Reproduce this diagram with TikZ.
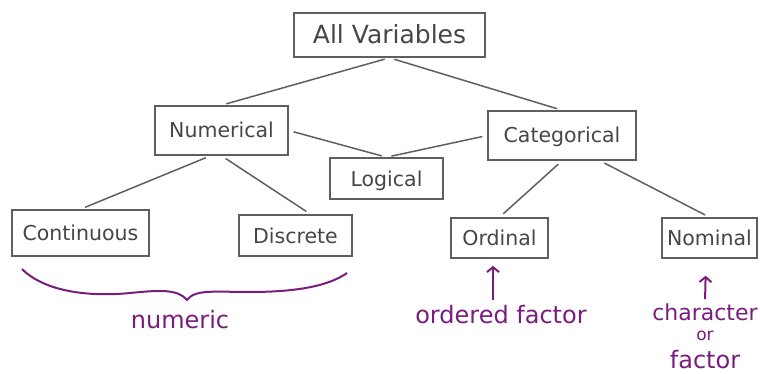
\documentclass[tikz,border=0pt]{standalone}
\usepackage{fontspec}
\setmainfont{DejaVu Sans}
\usepackage{tikz}
\usetikzlibrary{arrows.meta}
\definecolor{boxgray}{RGB}{95,95,95}
\definecolor{txtgray}{RGB}{70,70,70}
\definecolor{notepurple}{RGB}{122,28,126}
\tikzset{
	box/.style 2 args={draw=boxgray,line width=1.6pt,text=txtgray,inner sep=0pt,
		minimum width=#1,minimum height=#2,text height=15pt,text depth=0pt,
		font=\fontsize{20.5}{24}\selectfont},
	link/.style={draw=boxgray,line width=1.5pt,shorten <=5pt,shorten >=5pt},
	note/.style={text=notepurple,inner sep=0pt,anchor=base,font=\fontsize{24}{28}\selectfont},
	notearrow/.style={draw=notepurple,line width=2pt,-{Straight Barb[length=5pt,width=12pt]}}
}
\begin{document}
\begin{tikzpicture}[x=1pt,y=-1pt]%[scale=1.5]
	\useasboundingbox (0,0) rectangle (760,374);

	\node [box={191pt}{44pt},text height=18pt,font=\fontsize{25}{29}\selectfont] (all) at (389.5,35) {All Variables};

	\node [box={133pt}{49pt}] (num) at (221.5,130.5) {Numerical};
	\node [box={148pt}{49pt}] (cat) at (562,135.5) {Categorical};
	\node [box={113pt}{41pt}] (logi) at (386.5,178.5) {Logical};

	\node [box={137pt}{46pt}] (cont) at (80.5,233) {Continuous};
	\node [box={113pt}{41pt}] (disc) at (295.5,235.5) {Discrete};
	\node [box={97pt}{40pt}] (ord) at (499.5,238) {Ordinal};
	\node [box={95pt}{40pt}] (nom) at (709.5,238) {Nominal};

	\draw [link] (all.south) -- (num.north);
	\draw [link] (all.south) -- (cat.north);
	\draw [link] (num.east) -- (logi.north);
	\draw [link] (cat.west) -- (logi.north);
	\draw [link] ([xshift=-11pt]num.south) -- (cont.north);
	\draw [link] (num.south) -- ([xshift=15pt]disc.north);
	\draw [link] (cat.south) -- (ord.north);
	\draw [link] ([xshift=38pt]cat.south) -- (nom.north);

	% notes
	\draw [notepurple,line width=2pt] (22,269) .. controls (45,292) and (90,297) .. (130,293)
		.. controls (160,290) and (178,289) .. (187,300)
		.. controls (195,289) and (215,292) .. (250,292)
		.. controls (300,292) and (330,285) .. (347,273);
	\node [note] (numnote) at (180,328) {numeric};

	\node [note] (ofac) at (501,323) {ordered factor};
	\draw [notearrow,shorten <=5pt,shorten >=7pt] ([xshift=-8pt]ofac.north) -- ([xshift=-6.5pt]ord.south);

	\node [note,font=\fontsize{22}{26}\selectfont] (chr) at (705,320) {character};
	\node [note,font=\fontsize{17}{20}\selectfont] (orn) at (705,340) {or};
	\node [note] (fac) at (705,368) {factor};
	\draw [notearrow,shorten <=4pt,shorten >=17pt] (chr.north) -- ([xshift=-3.5pt]nom.south);
\end{tikzpicture}
\end{document}
